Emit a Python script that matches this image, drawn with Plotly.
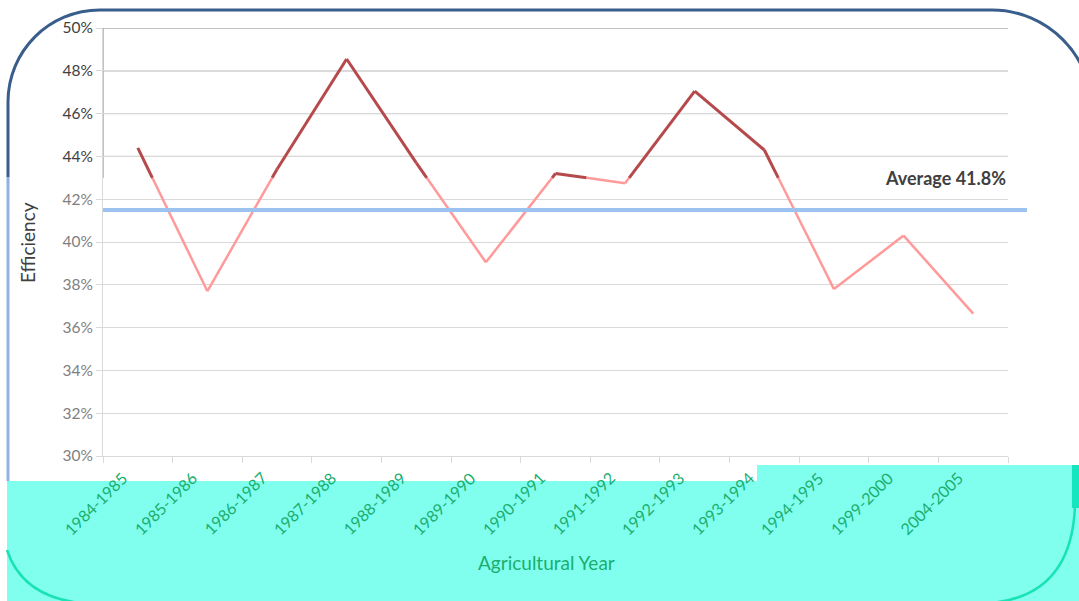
import plotly.graph_objects as go

# ---------------- data ----------------
years = ["1984-1985", "1985-1986", "1986-1987", "1987-1988", "1988-1989",
         "1989-1990", "1990-1991", "1991-1992", "1992-1993", "1993-1994",
         "1994-1995", "1999-2000", "2004-2005"]
efficiency = [44.4, 37.7, 43.4, 48.55, 43.7, 39.05, 43.2, 42.75, 47.05,
              44.3, 37.8, 40.3, 36.65]
average_line = 41.5
average_label = "Average 41.8%"
threshold = 43.0
y_ticks = [30, 32, 34, 36, 38, 40, 42, 44, 46, 48, 50]

# ---------------- geometry helpers ----------------
W, H = 1079, 601
L, R, T, B = 103, 1008, 28, 456


def px(x):
    return (x - L) / (R - L)


def py(y):
    return (B - y) / (B - T)


def path(cmds):
    out = []
    for c in cmds:
        if isinstance(c, str):
            out.append(c)
        else:
            out.append(f"{px(c[0]):.5f},{py(c[1]):.5f}")
    return " ".join(out)


# ---------------- split line into dark (above threshold) / pink ----------------
xi = list(range(len(years)))
n = len(years)
dark_x, dark_y, pink_x, pink_y = [], [], [], []
for i in range(n - 1):
    x0, y0, x1, y1 = xi[i], efficiency[i], xi[i + 1], efficiency[i + 1]
    pts = [(x0, y0)]
    if (y0 - threshold) * (y1 - threshold) < 0:
        xc = x0 + (threshold - y0) / (y1 - y0) * (x1 - x0)
        pts.append((xc, threshold))
    pts.append((x1, y1))
    for a, b in zip(pts[:-1], pts[1:]):
        mid = (a[1] + b[1]) / 2
        if mid >= threshold:
            dark_x += [a[0], b[0], None]
            dark_y += [a[1], b[1], None]
        else:
            pink_x += [a[0], b[0], None]
            pink_y += [a[1], b[1], None]

fig = go.Figure()
fig.add_trace(go.Scatter(x=pink_x, y=pink_y, mode="lines",
                         line=dict(color="#FF9A9A", width=2.5),
                         hoverinfo="skip", showlegend=False))
fig.add_trace(go.Scatter(x=dark_x, y=dark_y, mode="lines",
                         line=dict(color="#B5494B", width=3),
                         hoverinfo="skip", showlegend=False))

shapes = []
# cyan bottom region
shapes.append(dict(type="path", xref="paper", yref="paper", layer="below",
                   path=path(["M", (7, 481), "L", (757, 481), "L", (757, 465),
                              "L", (1079, 465), "L", (1079, 601), "L", (7, 601), "Z"]),
                   fillcolor="#80FFEE", line=dict(width=0)))
# frame top (dark blue)
shapes.append(dict(type="path", xref="paper", yref="paper", layer="below",
                   path=path(["M", (8, 177), "L", (8, 102), "C", (8, 51), (49, 10), (100, 10),
                              "L", (992, 10), "C", (1047, 10), (1092, 55), (1092, 110),
                              "L", (1092, 470)]),
                   line=dict(color="#3A5E8C", width=3)))
# frame left (light blue)
shapes.append(dict(type="line", xref="paper", yref="paper", layer="below",
                   x0=px(8), x1=px(8), y0=py(177), y1=py(481),
                   line=dict(color="#8DB3E2", width=3)))
# teal corners
shapes.append(dict(type="path", xref="paper", yref="paper", layer="below",
                   path=path(["M", (7, 550), "Q", (22, 596), (80, 603)]),
                   line=dict(color="#19E3B5", width=2.5)))
shapes.append(dict(type="rect", xref="paper", yref="paper", layer="below",
                   x0=px(1072), x1=px(1080), y0=py(465), y1=py(508),
                   fillcolor="#16E6C0", line=dict(width=0)))
shapes.append(dict(type="path", xref="paper", yref="paper", layer="below",
                   path=path(["M", (1075, 505), "Q", (1072, 596), (990, 603)]),
                   line=dict(color="#19E3B5", width=2.5)))
# darker gridlines in the upper region
for v in y_ticks:
    if v >= 44:
        shapes.append(dict(type="line", xref="paper", yref="y", layer="below",
                           x0=0, x1=1, y0=v, y1=v,
                           line=dict(color="#858585", width=1)))
# darker upper part of the y axis line
shapes.append(dict(type="line", xref="paper", yref="y", layer="below",
                   x0=0, x1=0, y0=threshold, y1=50,
                   line=dict(color="#858585", width=1)))
# average line
shapes.append(dict(type="line", xref="paper", yref="y", layer="above",
                   x0=0, x1=px(1027), y0=average_line, y1=average_line,
                   line=dict(color="#9CC3F0", width=4)))

ytext = [f"<span style='color:{'#404040' if v >= 44 else '#7F7F7F'}'>{v}%</span>"
         for v in y_ticks]

annotations = [
    dict(text="<b>" + average_label + "</b>", xref="paper", yref="paper",
         x=1.0, y=py(178),
         xanchor="right", yanchor="middle", showarrow=False,
         font=dict(size=18, color="#404040", family="Lato")),
    dict(text="Efficiency", xref="paper", yref="paper", x=px(28), y=py(243),
         xanchor="center", yanchor="middle", textangle=-90, showarrow=False,
         font=dict(size=19, color="#404040")),
    dict(text="Agricultural Year", xref="paper", yref="paper", x=px(546), y=py(562),
         xanchor="center", yanchor="middle", showarrow=False,
         font=dict(size=19, color="#1AAE6F")),
]
# category labels, rotated, ending just left of each category centre
for i, lab in enumerate(years):
    annotations.append(dict(text=lab, xref="paper", yref="paper",
                            x=(i + 0.5 - 0.61) / n, y=py(503),
                            xanchor="center", yanchor="middle", textangle=-45,
                            showarrow=False,
                            font=dict(size=16, color="#1AAE6F")))

fig.update_layout(
    width=W, height=H,
    margin=dict(l=L, r=W - R, t=T, b=H - B),
    paper_bgcolor="white", plot_bgcolor="rgba(0,0,0,0)",
    font=dict(family="Lato", color="#404040"),
    shapes=shapes,
    xaxis=dict(range=[-0.5, n - 0.5], tickvals=xi,
               ticktext=[""] * n,
               showgrid=False, zeroline=False, showline=True,
               linecolor="#D9D9D9", linewidth=1, ticks="",
               minor=dict(tickvals=[i - 0.5 for i in range(n + 1)],
                          ticks="outside", ticklen=6, tickcolor="#D9D9D9",
                          showgrid=False)),
    yaxis=dict(range=[30, 50], tickvals=y_ticks, ticktext=ytext,
               tickfont=dict(size=15.5), showgrid=True, gridcolor="#D9D9D9",
               zeroline=False, showline=True, linecolor="#D9D9D9",
               ticks="outside", ticklen=6, tickcolor="#D9D9D9"),
    annotations=annotations,
)

fig.write_html("out.html")
